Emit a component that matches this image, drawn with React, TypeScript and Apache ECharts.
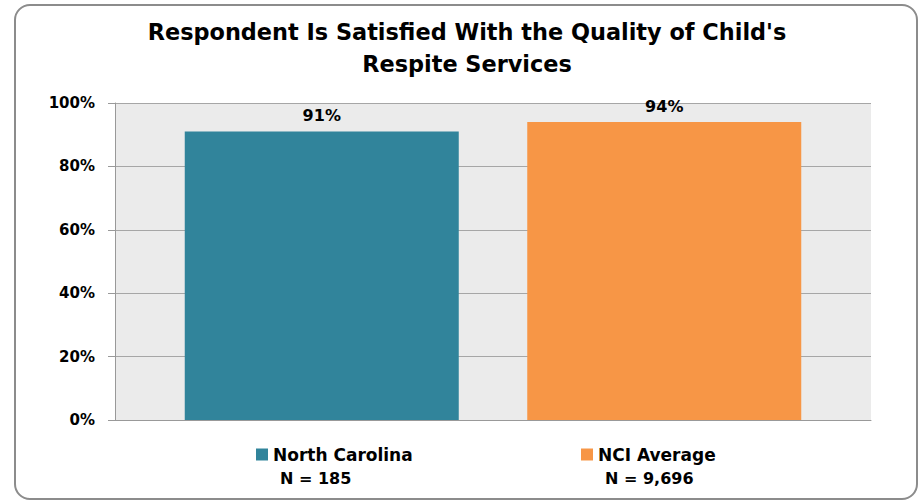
import React, { useEffect, useRef } from "react";
import * as echarts from "echarts";

const titleLines = ["Respondent Is Satisfied With the Quality of Child's", "Respite Services"];
const category = ["Satisfied"];
const seriesNames = ["North Carolina", "NCI Average"];
const seriesValues = [91, 94];
const sampleSizes = ["N = 185", "N = 9,696"];
const seriesColors = ["#31849B", "#F79646"];
const yTicks = { min: 0, max: 100, interval: 20 };

export default function App() {
  const ref = useRef<HTMLDivElement>(null);
  useEffect(() => {
    if (!ref.current) return;
    const chart = echarts.init(ref.current, null, { renderer: "svg" });
    const font = "'DejaVu Sans', sans-serif";
    const legendLefts = [256, 581];
    chart.setOption({
      animation: false,
      backgroundColor: "#ffffff",
      title: {
        text: titleLines.join("\n"),
        left: 462,
        top: 11,
        textAlign: "center",
        textStyle: { fontFamily: font, fontWeight: "bold", fontSize: 22.4, color: "#000", lineHeight: 32 },
      },
      grid: { left: 115, right: 50, top: 103, bottom: 81, backgroundColor: "#EBEBEB", show: true, borderWidth: 0 },
      xAxis: {
        type: "category",
        data: category,
        axisLine: { show: true, lineStyle: { color: "#999", width: 1 } },
        axisTick: { show: false },
        axisLabel: { show: false },
      },
      yAxis: {
        type: "value",
        min: yTicks.min,
        max: yTicks.max,
        interval: yTicks.interval,
        axisLine: { show: true, lineStyle: { color: "#999", width: 1 } },
        axisTick: { show: true, length: 7, lineStyle: { color: "#999" } },
        splitLine: { show: true, lineStyle: { color: "#A6A6A6", width: 1 } },
        axisLabel: {
          formatter: "{value}%",
          margin: 20,
          fontFamily: font,
          fontWeight: "bold",
          fontSize: 15,
          color: "#000",
        },
      },
      legend: seriesNames.map((name, i) => ({
        data: [name],
        left: legendLefts[i],
        top: 446,
        padding: 0,
        itemWidth: 12,
        itemHeight: 12,
        icon: "rect",
        itemGap: 7,
        textStyle: { fontFamily: font, fontWeight: "bold", fontSize: 17, color: "#000" },
        selectedMode: false,
      })),
      graphic: [
        {
          type: "rect",
          shape: { x: 15, y: 5, width: 902, height: 494, r: 15 },
          style: { fill: "none", stroke: "#8C8C8C", lineWidth: 2 },
          silent: true,
        },
        ...sampleSizes.map((t, i) => ({
          type: "text",
          left: legendLefts[i] + 24,
          top: 470,
          style: { text: t, fontFamily: font, fontWeight: "bold", fontSize: 16, fill: "#000" },
        })),
      ],
      series: seriesNames.map((name, i) => ({
        name,
        type: "bar",
        data: [seriesValues[i]],
        barWidth: 274,
        barGap: "25%",
        itemStyle: { color: seriesColors[i] },
        label: {
          show: true,
          position: "top",
          distance: 8,
          formatter: "{c}%",
          fontFamily: font,
          fontWeight: "bold",
          fontSize: 16,
          color: "#000",
        },
      })),
    });
    return () => chart.dispose();
  }, []);
  return <div ref={ref} style={{ position: "fixed", left: 0, top: 0, width: 921, height: 501 }} />;
}
